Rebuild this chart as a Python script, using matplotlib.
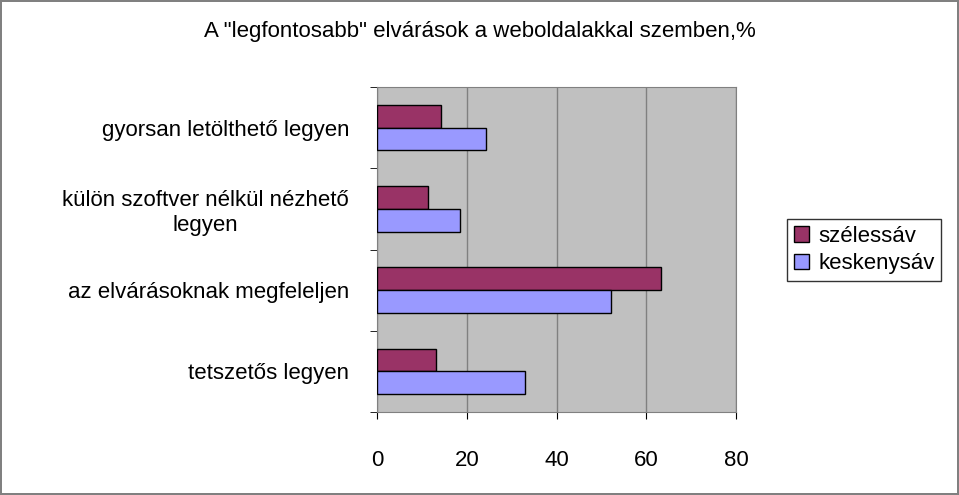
import matplotlib.pyplot as plt
import numpy as np

plt.rcParams["font.family"] = ["Liberation Sans", "DejaVu Sans"]

categories = ["gyorsan letölthető legyen", "külön szoftver nélkül nézhető\nlegyen",
              "az elvárásoknak megfeleljen", "tetszetős legyen"]
szeles = [14.3, 11.4, 63.3, 13.1]
keskeny = [24.3, 18.5, 52.1, 33.0]

fig = plt.figure(figsize=(9.59, 4.95), dpi=100)
fig.patch.set_edgecolor("#808080")
fig.patch.set_linewidth(1.5)
ax = fig.add_axes([377 / 959, 1 - 412 / 495, 359 / 959, 325 / 495])
ax.set_facecolor("#C0C0C0")

y = np.arange(len(categories))
h = 0.28
ax.barh(y - h / 2, szeles, h, color="#993366", edgecolor="black", linewidth=1, label="szélessáv", zorder=3)
ax.barh(y + h / 2, keskeny, h, color="#9999FF", edgecolor="black", linewidth=1, label="keskenysáv", zorder=3)
ax.set_ylim(len(categories) - 0.5, -0.5)
ax.set_xlim(0, 80)
ax.set_xticks([0, 20, 40, 60, 80])
ax.set_yticks(y)
ax.set_yticklabels(categories, fontsize=16, ha="right", multialignment="center")
ax.tick_params(axis="y", pad=20, length=0)
ax.tick_params(axis="x", labelsize=16, length=5, direction="out", pad=22)
ax.set_yticks(np.arange(len(categories) + 1) - 0.5, minor=True)
ax.tick_params(axis="y", which="minor", length=5)
ax.grid(axis="x", color="#808080", linewidth=1, zorder=0)
for s in ax.spines.values():
    s.set_color("#808080")

fig.text(0.5, 1 - 32 / 495, 'A "legfontosabb" elvárások a weboldalakkal szemben,%',
         ha="center", va="center", fontsize=16)
fig.legend(loc="center", bbox_to_anchor=(864 / 959, 1 - 250 / 495), fontsize=16,
           frameon=True, fancybox=False, edgecolor="black", handlelength=0.7,
           handletextpad=0.4, borderpad=0.3, labelspacing=0.3)

fig.savefig("out.png", dpi=100)
